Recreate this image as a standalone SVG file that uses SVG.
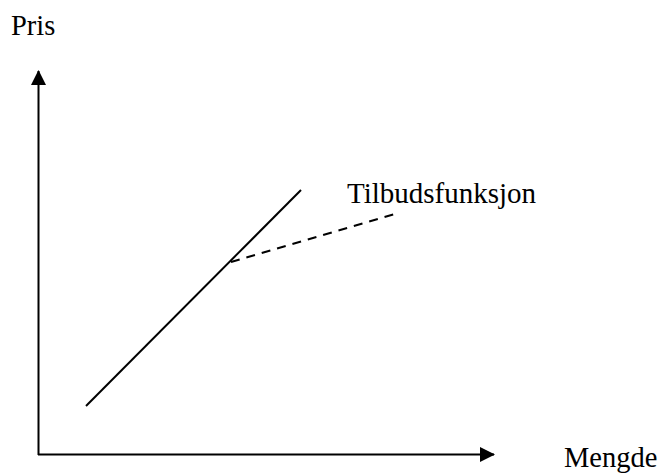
<svg xmlns="http://www.w3.org/2000/svg" width="661" height="473" viewBox="0 0 661 473">
<style>
text{font-family:"Liberation Serif","Times New Roman",serif;font-size:28.5px;fill:#000}
.ln{stroke:#000;stroke-width:2;fill:none}
</style>
<defs>
<marker id="ah" markerWidth="16" markerHeight="16" refX="14" refY="7.5" orient="auto" markerUnits="userSpaceOnUse" viewBox="0 0 16 15">
<path d="M0,0 L15,7.5 L0,15 Z" fill="#000"/>
</marker>
</defs>
<rect width="661" height="473" fill="#fff"/>
<g id="connectors">
<line class="ln" x1="38.5" y1="455" x2="38.5" y2="71" marker-end="url(#ah)"/>
<line class="ln" x1="38" y1="454.5" x2="494" y2="454.5" marker-end="url(#ah)"/>
<line class="ln" x1="86" y1="406" x2="301" y2="190"/>
<line class="ln" x1="231" y1="262" x2="398" y2="213" stroke-dasharray="9,7"/>
</g>
<g id="label-pris"><text x="11" y="35">Pris</text></g>
<g id="label-mengde"><text x="564" y="466.5">Mengde</text></g>
<g id="label-tilbud"><text x="347" y="203" style="font-size:29px">Tilbudsfunksjon</text></g>
</svg>
